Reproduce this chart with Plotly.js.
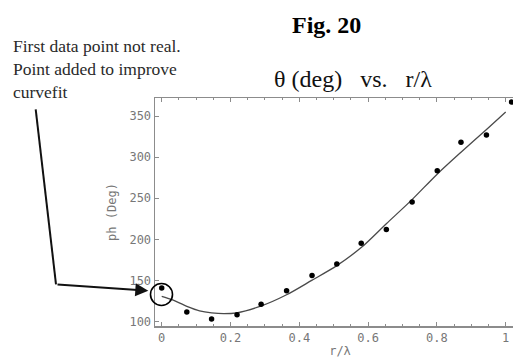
<!DOCTYPE html>
<html>
<head>
<meta charset="utf-8">
<script src="https://cdn.plot.ly/plotly-3.0.1.min.js"></script>
<style>
html,body{margin:0;padding:0;overflow:hidden;background:#fff;}
#chart{width:530px;height:358px;}
</style>
</head>
<body>
<div id="chart"></div>
<script>
// measured data points (r/lambda, phase in degrees)
const rOverLambda = [0, 0.073, 0.145, 0.219, 0.289, 0.363, 0.437, 0.509, 0.580, 0.653, 0.728, 0.801, 0.870, 0.944, 1.017];
const phaseDeg    = [140.6, 111.4, 102.9, 108.1, 121.1, 137.3, 155.9, 170.1, 195.3, 211.8, 245.5, 283.5, 318, 326.9, 367];

// curve fit
const fitX = [0, 0.03, 0.073, 0.11, 0.145, 0.18, 0.218, 0.29, 0.363, 0.436, 0.509, 0.58, 0.653, 0.727, 0.8, 0.87, 0.945, 1.0];
const fitY = [130.5, 126.5, 118.5, 113, 110.5, 109.5, 110.5, 119, 132.5, 150, 168, 190, 219, 248, 279, 306, 334, 355];

const xTickVals = [0, 0.2, 0.4, 0.6, 0.8, 1];
const xTickText = ["0", "0.2", "0.4", "0.6", "0.8", "1"];
const yTickVals = [100, 150, 200, 250, 300, 350];

const chartTitle = "θ (deg)&nbsp;&nbsp; vs.&nbsp;&nbsp; r/λ";
const figLabel = "<b>Fig. 20</b>";
const noteLines = ["First data point not real.", "Point added to improve", "curvefit"];

const serif = "Liberation Serif, Times New Roman, Times, serif";
const tickFont = {family: "DejaVu Sans Mono", size: 12, color: "#777"};
const axisColor = "#8c8c8c";

const traces = [
  {x: fitX, y: fitY, type: "scatter", mode: "lines", line: {color: "#4a4a4a", width: 1.3, shape: "spline", smoothing: 0.8}, hoverinfo: "skip"},
  {x: rOverLambda, y: phaseDeg, type: "scatter", mode: "markers", marker: {color: "#000", size: 5.5}, cliponaxis: false}
];

// paper coordinate helpers (plot area: left 155, right 525, top 98, bottom 326)
const PL = 155, PR = 525, PT = 98, PB = 326;
const px = v => (v - PL) / (PR - PL);
const py = v => (PB - v) / (PB - PT);

const layout = {
  width: 530, height: 358,
  margin: {l: PL, r: 530 - PR, t: PT, b: 358 - PB, pad: 0},
  paper_bgcolor: "#fff", plot_bgcolor: "#fff",
  showlegend: false,
  title: {text: chartTitle, font: {family: serif, size: 24, color: "#111"},
          x: 353 / 530, xanchor: "center", y: 1 - 79 / 358, yanchor: "middle", xref: "container", yref: "container"},
  xaxis: {
    range: [-0.0195, 1.0561], showgrid: false, zeroline: false,
    showline: true, linecolor: axisColor, linewidth: 1.5, mirror: "ticks",
    ticks: "inside", ticklen: 4, tickwidth: 1, tickcolor: axisColor,
    tickvals: xTickVals, ticktext: xTickText, tickfont: tickFont,
    minor: {dtick: 0.05, ticks: "inside", ticklen: 2, tickcolor: axisColor},
    title: {text: "r/λ", font: tickFont, standoff: 2}
  },
  yaxis: {
    range: [94.5, 372], showgrid: false, zeroline: false,
    showline: true, linecolor: axisColor, linewidth: 1.5,
    ticks: "inside", ticklen: 4, tickwidth: 1, tickcolor: axisColor,
    tickvals: yTickVals, tickfont: tickFont,
    title: {text: "ph (Deg)", font: tickFont, standoff: 10}
  },
  shapes: [
    {type: "circle", xref: "paper", yref: "paper",
     x0: px(161.5 - 11), x1: px(161.5 + 11), y0: py(294.5 + 11), y1: py(294.5 - 11),
     line: {color: "#000", width: 1.6}},
    {type: "path", xref: "paper", yref: "paper",
     path: "M " + px(35.7) + " " + py(109.3) + " L " + px(56) + " " + py(284.3),
     line: {color: "#111", width: 2}}
  ],
  annotations: [
    {text: figLabel, xref: "paper", yref: "paper", x: px(326.7), y: py(25), xanchor: "center", yanchor: "middle",
     showarrow: false, font: {family: serif, size: 24, color: "#000"}},
    {text: noteLines.join("<br>"), xref: "paper", yref: "paper", x: px(11), y: py(69), xanchor: "left", yanchor: "middle",
     align: "left", showarrow: false, font: {family: serif, size: 17.5, color: "#2a2a2a"}},
    {text: "", xref: "paper", yref: "paper", x: px(148.3), y: py(290.7), axref: "pixel", ayref: "pixel",
     ax: 56 - 148.3, ay: 284.3 - 290.7, showarrow: true, arrowhead: 2, arrowsize: 1.3, arrowwidth: 2, arrowcolor: "#111", standoff: 0}
  ]
};

Plotly.newPlot("chart", traces, layout, {displayModeBar: false, staticPlot: true});
</script>
</body>
</html>
